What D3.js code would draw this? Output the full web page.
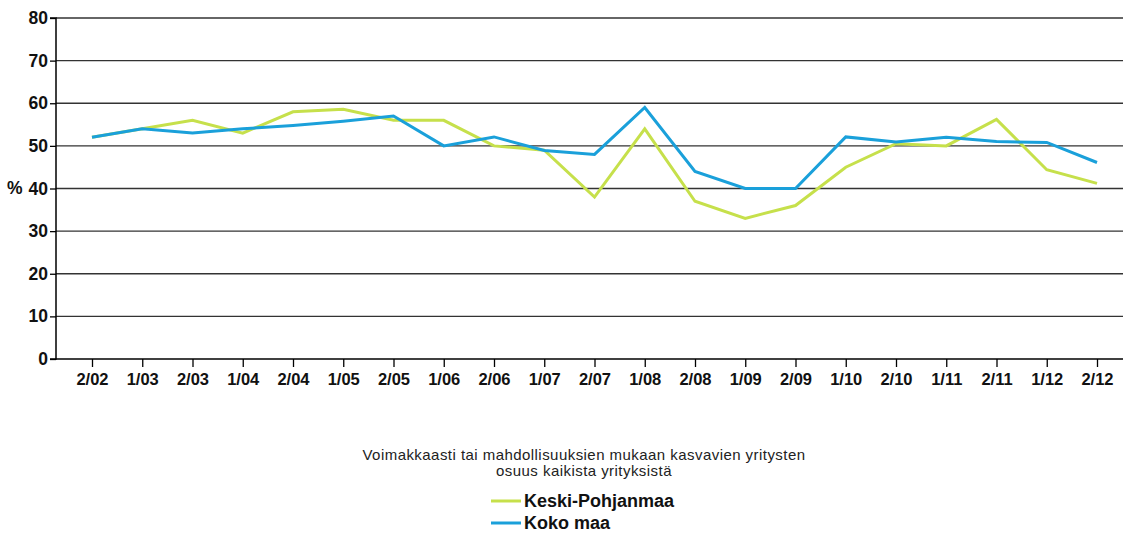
<!DOCTYPE html>
<html>
<head>
<meta charset="utf-8">
<script src="https://cdn.jsdelivr.net/npm/d3@7/dist/d3.min.js"></script>
<style>
  html, body { margin: 0; padding: 0; background: #fff; }
  svg { display: block; font-family: "Liberation Sans", Arial, sans-serif; }
</style>
</head>
<body>
<svg id="chart" width="1123" height="533"></svg>
<script>
const categories = ["2/02","1/03","2/03","1/04","2/04","1/05","2/05","1/06","2/06","1/07","2/07","1/08","2/08","1/09","2/09","1/10","2/10","1/11","2/11","1/12","2/12"];
const keskiPohjanmaa = [52, 54, 56, 53, 58, 58.6, 56, 56, 50, 49, 38, 54, 37, 33, 36, 45, 50.5, 50, 56.2, 44.4, 41.2];
const kokoMaa = [52, 54, 53, 54, 54.8, 55.8, 57, 50, 52.1, 48.9, 48, 59, 44, 40, 40, 52.1, 50.9, 52, 51, 50.8, 46.1];
const yTicks = [0, 10, 20, 30, 40, 50, 60, 70, 80];
const legendTitle = ["Voimakkaasti tai mahdollisuuksien mukaan kasvavien yritysten", "osuus kaikista yrityksistä"];
const seriesNames = ["Keski-Pohjanmaa", "Koko maa"];
const colors = ["#c6e04b", "#1aa0da"];

const svg = d3.select("#chart");
const mLeft = 56, mRight = 1123, mTop = 18, mBottom = 359;
const FONT = "Liberation Sans, Arial, sans-serif";

const x = d3.scalePoint().domain(categories).range([92, 1097]);
const y = d3.scaleLinear().domain([0, 80]).range([mBottom, mTop]);

// gridlines
svg.append("g").selectAll("line").data(yTicks.filter(d => d > 0)).join("line")
  .attr("x1", mLeft).attr("x2", mRight)
  .attr("y1", d => y(d)).attr("y2", d => y(d))
  .attr("stroke", "#333").attr("stroke-width", 1.3);

// y axis
const yAxis = svg.append("g").attr("transform", `translate(${mLeft},0)`)
  .call(d3.axisLeft(y).tickValues(yTicks).tickSize(6).tickPadding(2).tickFormat(d3.format("d")));
yAxis.select(".domain").attr("stroke", "#000").attr("stroke-width", 1.5).attr("d", `M-6,${mTop}H0V${mBottom}H-6`);
yAxis.selectAll(".tick line").attr("stroke", "#000").attr("stroke-width", 1.3);
yAxis.selectAll("text").attr("font-size", 17.5).attr("font-weight", "bold").attr("fill", "#111")
  .attr("font-family", FONT);

svg.append("text").attr("x", 7).attr("y", y(40)).attr("dy", "0.32em")
  .attr("font-size", 17.5).attr("font-weight", "bold").attr("fill", "#111")
  .attr("font-family", FONT).text("%");

// x axis
const xAxis = svg.append("g").attr("transform", `translate(0,${mBottom})`)
  .call(d3.axisBottom(x).tickSize(8).tickPadding(6));
xAxis.select(".domain").attr("stroke", "#000").attr("stroke-width", 1.5).attr("d", `M${mLeft},0H${mRight}`);
xAxis.selectAll(".tick line").attr("stroke", "#000").attr("stroke-width", 1.3);
xAxis.selectAll("text").attr("font-size", 16.5).attr("font-weight", "bold").attr("fill", "#111")
  .attr("font-family", FONT);

// lines
const line = d3.line().x((d, i) => x(categories[i])).y(d => y(d));
[keskiPohjanmaa, kokoMaa].forEach((s, k) => {
  svg.append("path").datum(s).attr("d", line)
    .attr("fill", "none").attr("stroke", colors[k]).attr("stroke-width", 3)
    .attr("stroke-linejoin", "miter");
});

// legend
svg.append("g").selectAll("text").data(legendTitle).join("text")
  .attr("x", 584).attr("y", (d, i) => 460 + i * 16)
  .attr("text-anchor", "middle").attr("font-size", 15).attr("letter-spacing", 0.45)
  .attr("fill", "#222").attr("font-family", FONT)
  .text(d => d);

const lg = svg.append("g").selectAll("g").data(seriesNames).join("g")
  .attr("transform", (d, i) => `translate(0,${501 + i * 22})`);
lg.append("line").attr("x1", 491).attr("x2", 521).attr("y1", 0).attr("y2", 0)
  .attr("stroke", (d, i) => colors[i]).attr("stroke-width", 3);
lg.append("text").attr("x", 524).attr("y", 0).attr("dy", "0.36em")
  .attr("font-size", 18).attr("font-weight", "bold").attr("fill", "#111")
  .attr("font-family", FONT).text(d => d);
</script>
</body>
</html>
